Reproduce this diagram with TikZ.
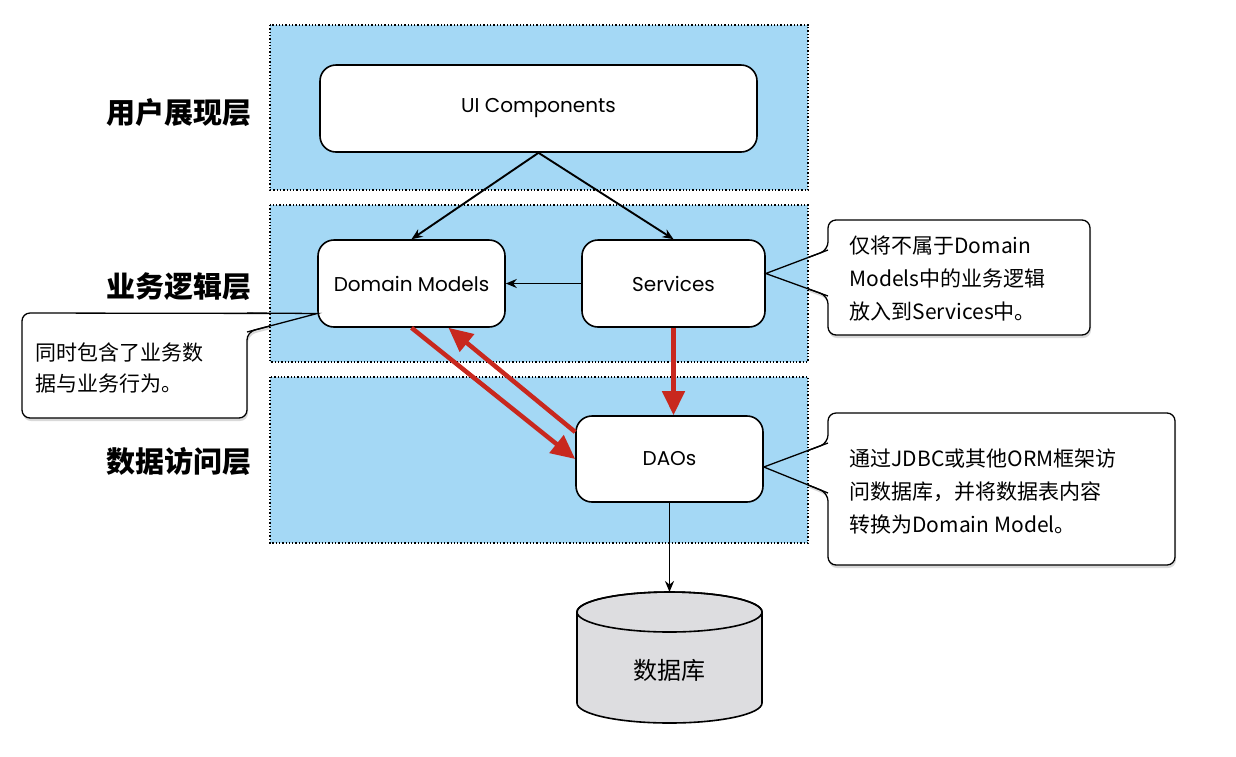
\documentclass[tikz,border=0pt]{standalone}
\usepackage{fontspec}
\setmainfont{Poppins}
\newfontfamily\cjk{Noto Sans CJK SC}
\usetikzlibrary{arrows.meta,shadows,backgrounds}
\definecolor{layerblue}{RGB}{164,216,245}
\definecolor{flowred}{RGB}{200,40,30}
\definecolor{dbgray}{RGB}{221,221,224}
\tikzset{
	layer/.style={fill=layerblue,draw=black,dotted,line width=1.3pt},
	box/.style={draw,fill=white,rounded corners=16pt,line width=1.6pt,font=\fontsize{20}{24}\selectfont},
	layertext/.style={anchor=east,font=\cjk\bfseries\fontsize{29}{32}\selectfont},
	note/.style={anchor=west,align=left,font=\cjk\fontsize{21}{33}\selectfont},
	callout/.style={draw,fill=white,line width=1.3pt,rounded corners=8pt,drop shadow={opacity=0.3,shadow xshift=1pt,shadow yshift=-3pt}},
	pointer/.style={line width=1.3pt},
	link/.style={line width=1.9pt,-{Stealth[length=11pt,width=9pt]}},
	flow/.style={flowred,line width=4.5pt,-{Triangle[length=24pt,width=22pt]}},
}
\begin{document}
\begin{tikzpicture}[x=1pt,y=-1pt]
	\useasboundingbox (0,0) rectangle (1236,756);
	\node [layertext] (uilabel) at (255,113) {用户展现层};
	\node [layertext] (bizlabel) at (255,287) {业务逻辑层};
	\node [layertext] (datalabel) at (255,461) {数据访问层};
	\node [box,minimum width=437,minimum height=87] (ui) at (538.5,108.5) {UI Components};
	\node [box,minimum width=187,minimum height=87] (dm) at (411.5,283.5) {Domain Models};
	\node [box,minimum width=183,minimum height=87] (svc) at (673.5,283.5) {Services};
	\node [box,minimum width=187,minimum height=86] (dao) at (669.5,459) {DAOs};
	\begin{scope}[on background layer]
		\draw [callout] (828,250) -- ([yshift=10pt]svc.east) -- (828,296) -- (828,335) -- (1090,335) -- (1090,220) -- (828,220) -- cycle;
		\draw [callout] (828,443) -- ([yshift=-8pt]dao.east) -- (828,493) -- (828,565) -- (1175,565) -- (1175,413) -- (828,413) -- cycle;
		\draw [callout] (247,332) -- ([yshift=-30pt]dm.west) -- (22,313) -- (22,418) -- (247,418) -- cycle;
		\draw [layer] (270,25) rectangle (808,190);
		\draw [layer] (270,205) rectangle (808,362);
		\draw [layer] (270,377) rectangle (808,543);
	\end{scope}
	\draw [pointer] (828,250) -- ([yshift=10pt]svc.east) -- (828,296);
	\draw [pointer] (828,443) -- ([yshift=-8pt]dao.east) -- (828,493);
	\draw [pointer] (247,332) -- ([yshift=-30pt]dm.west) -- (247,313);
	\node [note] (svcnote) at (846,279) {仅将不属于Domain\\Models中的业务逻辑\\放入到Services中。};
	\node [note] (daonote) at (846,491) {通过JDBC或其他ORM框架访\\问数据库，并将数据表内容\\转换为Domain Model。};
	\node [note,font=\cjk\fontsize{21}{31}\selectfont] (dmnote) at (32,368) {同时包含了业务数\\据与业务行为。};
	\draw [fill=dbgray,line width=1.6pt] (577,612) -- (577,703) arc (180:0:92.5 and 20) -- (762,612) arc (0:-180:92.5 and 20) -- cycle;
	\draw [line width=1.6pt] (669.5,612) ellipse (92.5 and 20);
	\coordinate (dbtop) at (669.5,592);
	\node [font=\cjk\fontsize{24}{28}\selectfont] (db) at (669.5,670) {数据库};
	\draw [link] (ui.south) -- (dm.north);
	\draw [link] (ui.south) -- (svc.north);
	\draw [link] (svc.west) -- (dm.east);
	\draw [link] (dao.south) -- (dbtop);
	\draw [flow] (svc.south) -- (svc.south |- dao.north);
	\draw [flow] (dm.south) -- (dao.west);
	\draw [flow] ([yshift=27pt]dao.west) -- ([xshift=37pt]dm.south);
\end{tikzpicture}
\end{document}
